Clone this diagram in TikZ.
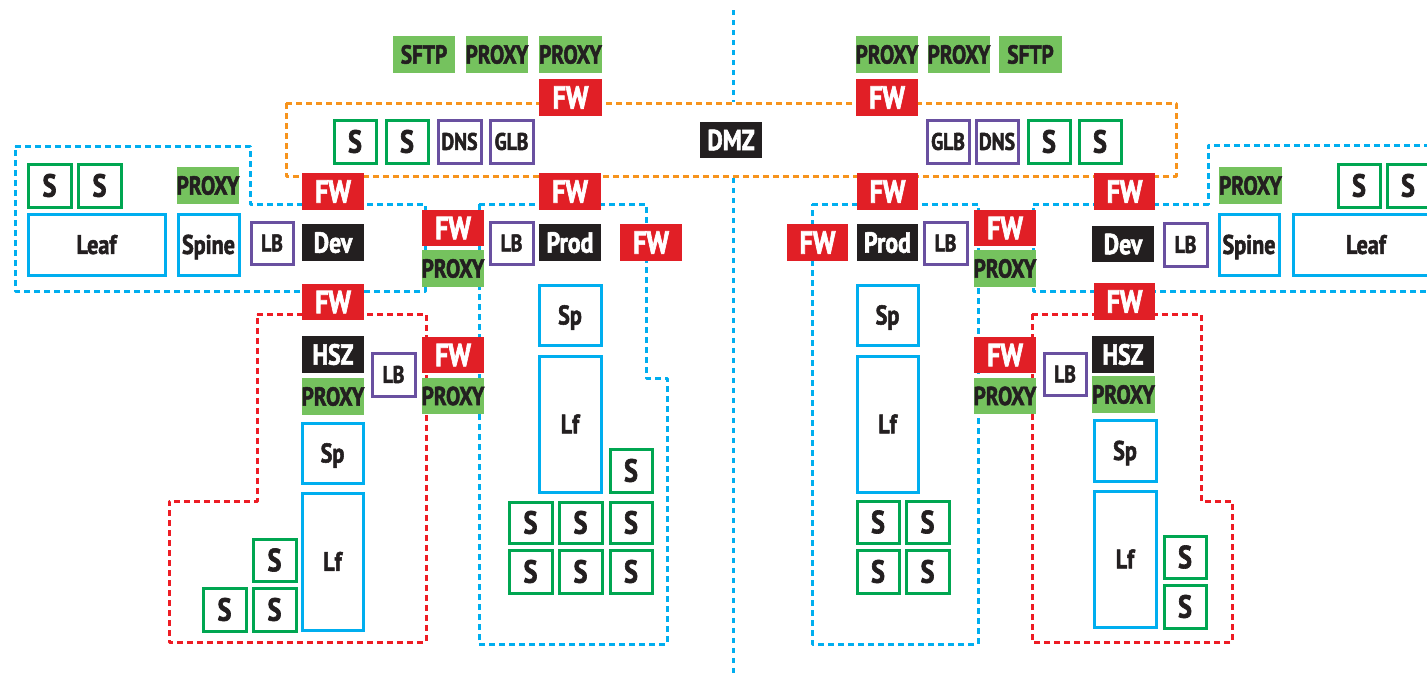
\documentclass[tikz,border=0pt]{standalone}
\usepackage{fontspec}
\newfontfamily\nf{PT Sans Bold}[FakeStretch=0.82, FakeBold=2]
\definecolor{fwred}{RGB}{225,31,38}
\definecolor{pgreen}{RGB}{117,194,94}
\definecolor{blk}{RGB}{35,31,32}
\definecolor{cyanb}{RGB}{0,174,239}
\definecolor{sgreen}{RGB}{0,166,81}
\definecolor{purp}{RGB}{105,80,160}
\definecolor{orng}{RGB}{247,148,29}
\definecolor{redd}{RGB}{237,28,36}
\newcommand\mybox[7]{\node[#1, minimum width={(#5-#3-2)*1pt}, minimum height={(#6-#4-2)*1pt}] (#2) at ({(#3+#5)/2},{(#4+#6)/2}) {#7};}
\tikzset{
  base/.style={rectangle, inner sep=0pt, text depth=0pt, align=center},
  fw/.style={base, fill=fwred, text=white, text height=22.4pt, font=\nf\fontsize{32}{32}\selectfont},
  blkbox/.style={base, fill=blk, text=white, text height=20.3pt, font=\nf\fontsize{29}{29}\selectfont},
  prx/.style={base, fill=pgreen, text=blk, text height=18.2pt, font=\nf\fontsize{26}{26}\selectfont},
  sbox/.style={base, draw=sgreen, line width=3pt, text=blk, text height=22.4pt, font=\nf\fontsize{32}{32}\selectfont},
  lbx/.style={base, draw=purp, line width=3pt, text=blk, text height=16.8pt, font=\nf\fontsize{24}{24}\selectfont},
  bbx/.style={base, draw=cyanb, line width=3pt, text=blk, text height=18.9pt, font=\nf\fontsize{27}{27}\selectfont},
  zone/.style={line width=3pt, dash pattern=on 6pt off 4pt, line join=round},
  bluez/.style={zone, draw=cyanb},
  redz/.style={zone, draw=redd},
  orz/.style={zone, draw=orng},
}
\begin{document}
\begin{tikzpicture}[x=1pt,y=-1pt]
\useasboundingbox (0,0) rectangle (1427,675);
% divider
\coordinate (d1) at (733,10); \coordinate (d2) at (733,102);
\coordinate (d3) at (733,178); \coordinate (d4) at (733,675);
\draw[bluez, dash pattern=on 5pt off 5pt] (d1) -- (d2);
\draw[bluez, dash pattern=on 5pt off 5pt] (d3) -- (d4);
% zones
\draw[orz] (286,103) -- (1176,103) -- (1176,176) -- (286,176) -- cycle;
\draw[bluez] (15,146) -- (250,146) -- (250,204) -- (425,204) -- (425,291) -- (15,291) -- cycle;
\draw[redz] (257,314) -- (426,314) -- (426,642) -- (169,642) -- (169,501) -- (257,501) -- cycle;
\draw[bluez] (479,204) -- (646,204) -- (646,378) -- (667,378) -- (667,644) -- (479,644) -- cycle;
\draw[bluez] (812,204) -- (978,204) -- (978,644) -- (812,644) -- cycle;
\draw[bluez] (1460,145) -- (1208,145) -- (1208,204) -- (1033,204) -- (1033,291) -- (1460,291);
\draw[redz] (1032,314) -- (1201,314) -- (1201,501) -- (1232,501) -- (1232,642) -- (1032,642) -- cycle;
% top left
\mybox{prx}{sftpL}{392}{35}{456}{74}{SFTP}
\mybox{prx}{pxL1}{465}{35}{529}{74}{PROXY}
\mybox{prx}{pxL2}{538}{35}{603}{74}{PROXY}
\mybox{fw}{fwTL}{538}{78}{603}{117}{FW}
\mybox{sbox}{sL1}{333}{119}{377}{164}{S}
\mybox{sbox}{sL2}{385}{119}{429}{164}{S}
\mybox{lbx}{dnsL}{437}{119}{482}{164}{DNS}
\mybox{lbx}{glbL}{489}{119}{534}{164}{GLB}
\mybox{blkbox}{dmz}{699}{121}{763}{159}{DMZ}
% top right
\mybox{prx}{pxR1}{855}{35}{919}{74}{PROXY}
\mybox{prx}{pxR2}{927}{35}{991}{74}{PROXY}
\mybox{prx}{sftpR}{998}{35}{1063}{74}{SFTP}
\mybox{fw}{fwTR}{855}{78}{919}{117}{FW}
\mybox{lbx}{glbR}{926}{119}{970}{164}{GLB}
\mybox{lbx}{dnsR}{975}{119}{1019}{164}{DNS}
\mybox{sbox}{sR1}{1027}{119}{1071}{164}{S}
\mybox{sbox}{sR2}{1078}{119}{1122}{164}{S}
% left dev
\mybox{sbox}{sD1}{27}{163}{72}{208}{S}
\mybox{sbox}{sD2}{77}{163}{122}{208}{S}
\mybox{prx}{pxD}{176}{166}{240}{205}{PROXY}
\mybox{bbx}{leafL}{27}{213}{166}{276}{Leaf}
\mybox{bbx}{spineL}{177}{213}{240}{276}{Spine}
\mybox{lbx}{lbD}{250}{221}{294}{265}{LB}
\mybox{blkbox}{devL}{301}{223}{365}{262}{Dev}
\mybox{fw}{fwDevL}{301}{172}{365}{211}{FW}
\mybox{fw}{fwDevPL}{421}{209}{485}{247}{FW}
\mybox{prx}{pxDevPL}{421}{249}{485}{288}{PROXY}
% left hsz
\mybox{fw}{fwHL}{301}{283}{365}{321}{FW}
\mybox{blkbox}{hszL}{301}{335}{365}{374}{HSZ}
\mybox{prx}{pxHL}{301}{377}{365}{416}{PROXY}
\mybox{lbx}{lbHL}{371}{352}{416}{397}{LB}
\mybox{fw}{fwHPL}{421}{336}{485}{374}{FW}
\mybox{prx}{pxHPL}{421}{377}{485}{415}{PROXY}
\mybox{bbx}{spHL}{301}{422}{364}{484}{Sp}
\mybox{bbx}{lfHL}{301}{492}{364}{631}{Lf}
\mybox{sbox}{sH1}{252}{538}{297}{582}{S}
\mybox{sbox}{sH2}{202}{587}{247}{632}{S}
\mybox{sbox}{sH3}{252}{587}{297}{632}{S}
% left prod
\mybox{fw}{fwPL}{538}{172}{602}{211}{FW}
\mybox{lbx}{lbPL}{489}{221}{534}{265}{LB}
\mybox{blkbox}{prodL}{538}{223}{602}{262}{Prod}
\mybox{fw}{fwPLr}{619}{223}{683}{262}{FW}
\mybox{bbx}{spPL}{538}{284}{602}{346}{Sp}
\mybox{bbx}{lfPL}{538}{355}{602}{493}{Lf}
\mybox{sbox}{sP0}{609}{448}{653}{493}{S}
\mybox{sbox}{sP1}{508}{501}{553}{544}{S}
\mybox{sbox}{sP2}{558}{501}{603}{544}{S}
\mybox{sbox}{sP3}{609}{501}{653}{544}{S}
\mybox{sbox}{sP4}{508}{549}{553}{594}{S}
\mybox{sbox}{sP5}{558}{549}{603}{594}{S}
\mybox{sbox}{sP6}{609}{549}{653}{594}{S}
% right prod
\mybox{fw}{fwPRl}{786}{223}{849}{262}{FW}
\mybox{fw}{fwPR}{856}{172}{919}{211}{FW}
\mybox{blkbox}{prodR}{856}{223}{919}{262}{Prod}
\mybox{lbx}{lbPR}{923}{221}{968}{265}{LB}
\mybox{fw}{fwDevPR}{973}{209}{1037}{247}{FW}
\mybox{prx}{pxDevPR}{973}{249}{1037}{288}{PROXY}
\mybox{bbx}{spPR}{856}{284}{919}{346}{Sp}
\mybox{bbx}{lfPR}{856}{355}{919}{493}{Lf}
\mybox{sbox}{sQ1}{856}{500}{900}{544}{S}
\mybox{sbox}{sQ2}{905}{500}{950}{544}{S}
\mybox{sbox}{sQ3}{856}{549}{900}{594}{S}
\mybox{sbox}{sQ4}{905}{549}{950}{594}{S}
\mybox{fw}{fwHPR}{973}{336}{1037}{374}{FW}
\mybox{prx}{pxHPR}{973}{377}{1037}{415}{PROXY}
% right dev
\mybox{fw}{fwDevR}{1093}{172}{1156}{211}{FW}
\mybox{blkbox}{devR}{1091}{225}{1155}{263}{Dev}
\mybox{lbx}{lbDR}{1163}{222}{1208}{267}{LB}
\mybox{bbx}{spineR}{1218}{213}{1280}{276}{Spine}
\mybox{bbx}{leafR}{1292}{213}{1440}{276}{Leaf}
\mybox{prx}{pxDR}{1218}{166}{1283}{205}{PROXY}
\mybox{sbox}{sDR1}{1337}{163}{1381}{208}{S}
\mybox{sbox}{sDR2}{1386}{163}{1430}{208}{S}
% right hsz
\mybox{fw}{fwHR}{1093}{282}{1156}{321}{FW}
\mybox{blkbox}{hszR}{1091}{335}{1155}{374}{HSZ}
\mybox{prx}{pxHR}{1091}{375}{1156}{414}{PROXY}
\mybox{lbx}{lbHR}{1043}{352}{1087}{396}{LB}
\mybox{bbx}{spHR}{1093}{419}{1157}{482}{Sp}
\mybox{bbx}{lfHR}{1093}{490}{1157}{628}{Lf}
\mybox{sbox}{sHR1}{1163}{535}{1207}{579}{S}
\mybox{sbox}{sHR2}{1163}{584}{1207}{629}{S}
\end{tikzpicture}
\end{document}
